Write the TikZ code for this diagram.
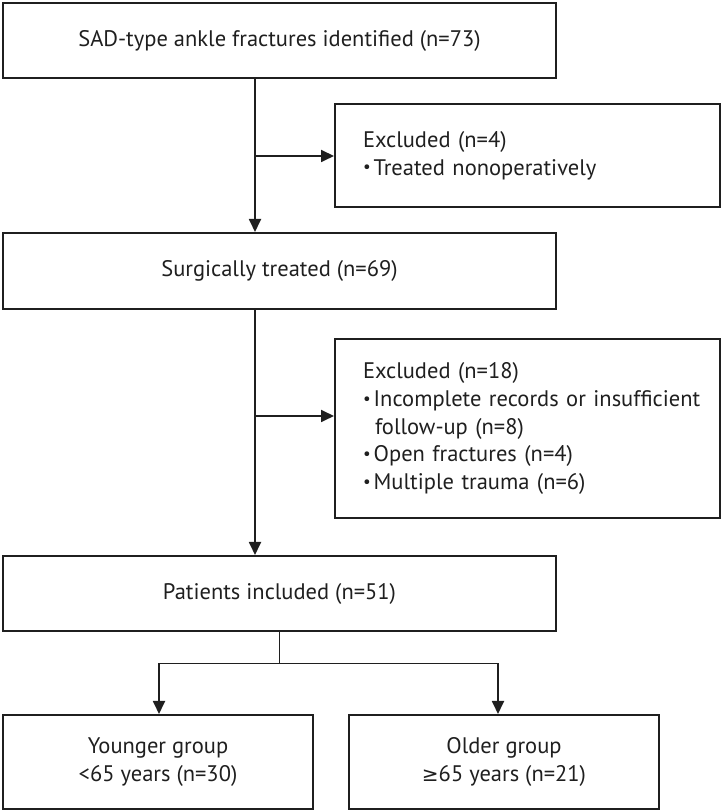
\documentclass[tikz,border=0pt]{standalone}
\usepackage{fontspec}
\setmainfont{PT Sans}
\newfontfamily\symfont{DejaVu Sans}
\usetikzlibrary{arrows.meta}
\newcommand{\blt}{\raisebox{0.2ex}{\fontsize{17}{17}\selectfont\textbullet}\kern3pt}
\begin{document}
\begin{tikzpicture}[x=1pt,y=1pt,
  box/.style={draw=black!88, line width=2pt, inner sep=0pt, align=center,
    font=\fontsize{22.5}{27.7}\selectfont, text=black!88},
  lbox/.style={box, align=left, text width=#1, inner xsep=28pt},
  conn/.style={draw=black!88, line width=1.8pt},
  arr/.style={conn, -{Triangle[length=13pt,width=12pt]}}]
\useasboundingbox (0,0) rectangle (723,811);
\node[box, minimum width=553pt, minimum height=75pt] (b1) at (279.5,770.5) {SAD-type ankle fractures identified (n=73)};
\node[lbox=329pt, minimum width=385pt, minimum height=103pt] (b2) at (527.5,655.5) {Excluded (n=4)\\\mbox{\blt Treated nonoperatively}};
\node[box, minimum width=553pt, minimum height=76pt] (b3) at (279.5,540) {Surgically treated (n=69)};
\node[lbox=329pt, minimum width=385pt, minimum height=179pt] (b4) at (527.5,382.5) {Excluded (n=18)\\\mbox{\blt Incomplete records or insufficient}\\\hspace*{12pt}follow-up (n=8)\\\mbox{\blt Open fractures (n=4)}\\\mbox{\blt Multiple trauma (n=6)}};
\node[box, minimum width=553pt, minimum height=75pt] (b5) at (279.5,217.5) {Patients included (n=51)};
\node[box, minimum width=310pt, minimum height=94pt] (b6) at (158,49) {Younger group\\<65 years (n=30)};
\node[box, minimum width=310pt, minimum height=94pt] (b7) at (504,49) {Older group\\{\symfont\fontsize{20}{20}\selectfont ≥}65 years (n=21)};
\coordinate (t1) at (255,0);
\coordinate (e2) at (0,655);
\coordinate (e4) at (0,395);
\coordinate (sp) at (0,147.5);
\coordinate (lx) at (159,0);
\coordinate (rx) at (498,0);
\draw[arr] (b1.south -| t1) -- (b3.north -| t1);
\draw[arr] (t1 |- e2) -- (b2.west |- e2);
\draw[arr] (b3.south -| t1) -- (b5.north -| t1);
\draw[arr] (t1 |- e4) -- (b4.west |- e4);
\draw[conn] (b5.south) -- (b5.south |- sp);
\draw[conn] (lx |- sp) -- (rx |- sp);
\draw[arr] (lx |- sp) -- (b6.north -| lx);
\draw[arr] (rx |- sp) -- (b7.north -| rx);
\end{tikzpicture}
\end{document}
